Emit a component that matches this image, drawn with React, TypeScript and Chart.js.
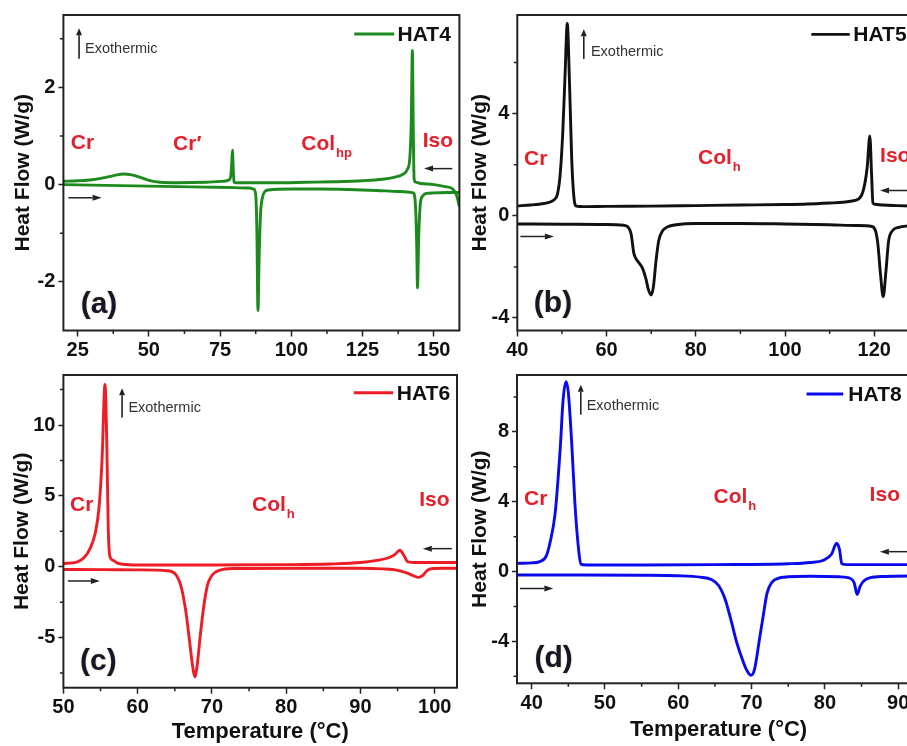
import React, { useEffect, useRef } from "react";
import { Chart, registerables } from "chart.js";

Chart.register(...registerables);

const FONT = "'Liberation Sans', Arial, Helvetica, sans-serif";

// ---------------- HAT4 (a) ----------------
const hat4CoolT = [20, 25, 30, 35, 38, 41, 44, 47, 50, 54, 60, 70, 76, 78.2, 78.8, 79.1, 79.35, 79.6, 79.9, 80.4, 85, 95, 105, 115, 125, 132, 136, 139, 140.8, 141.6, 142.1, 142.5, 142.8, 143.1, 143.6, 145, 150, 154, 156.5, 158, 159];
const hat4CoolHF = [0.07, 0.08, 0.1, 0.15, 0.19, 0.22, 0.2, 0.15, 0.09, 0.05, 0.04, 0.05, 0.07, 0.1, 0.2, 0.45, 0.71, 0.35, 0.06, 0.04, 0.04, 0.04, 0.05, 0.06, 0.08, 0.11, 0.15, 0.21, 0.32, 0.55, 1.3, 2.76, 1.2, 0.12, 0.05, 0.03, 0.0, -0.04, -0.08, -0.22, -0.45];
const hat4HeatT = [20, 30, 40, 50, 60, 70, 80, 85, 86.8, 87.5, 87.9, 88.3, 88.7, 89.2, 89.8, 90.6, 92, 100, 110, 120, 130, 138, 142.8, 143.6, 144, 144.3, 144.7, 145.2, 146, 147.5, 150, 155, 159];
const hat4HeatHF = [0.0, -0.01, -0.02, -0.03, -0.04, -0.05, -0.06, -0.07, -0.09, -0.2, -0.9, -2.59, -1.5, -0.6, -0.28, -0.15, -0.11, -0.09, -0.09, -0.1, -0.12, -0.14, -0.17, -0.45, -1.2, -2.12, -1.1, -0.45, -0.24, -0.18, -0.17, -0.16, -0.16];
const hat4XTicks = [25, 50, 75, 100, 125, 150];
const hat4XMinor = [37.5, 62.5, 87.5, 112.5, 137.5];
const hat4YTicks = [-2, 0, 2];
const hat4YMinor = [-1, 1, 3];

// ---------------- HAT5 (b) ----------------
const hat5CoolT = [40, 43, 46, 47.5, 48.4, 49.0, 49.6, 50.2, 50.7, 51.2, 51.7, 52.2, 52.7, 53.2, 55, 60, 70, 80, 90, 100, 105, 110, 113, 115, 116.4, 117.5, 118.4, 119.0, 119.4, 119.7, 120.2, 122, 125, 130];
const hat5CoolHF = [0.39, 0.42, 0.48, 0.55, 0.65, 0.85, 1.6, 3.3, 5.5, 7.53, 5.2, 2.2, 0.7, 0.38, 0.36, 0.37, 0.38, 0.4, 0.42, 0.44, 0.46, 0.5, 0.53, 0.58, 0.65, 0.97, 1.87, 3.13, 1.6, 0.5, 0.45, 0.42, 0.4, 0.38];
const hat5HeatT = [40, 50, 60, 63, 64.3, 65.5, 66.1, 66.6, 67.3, 68.1, 68.8, 69.4, 70.0, 70.5, 71.1, 71.7, 72.6, 73.7, 75.6, 80, 90, 100, 110, 116, 119.5, 120.3, 120.8, 121.4, 122.0, 122.6, 123.2, 124, 125.5, 127.5, 130];
const hat5HeatHF = [-0.32, -0.33, -0.34, -0.36, -0.39, -0.71, -1.45, -1.68, -1.85, -2.07, -2.45, -2.9, -3.1, -2.78, -1.74, -0.97, -0.58, -0.43, -0.35, -0.3, -0.3, -0.32, -0.35, -0.38, -0.42, -0.6, -1.1, -2.3, -3.17, -2.2, -1.0, -0.6, -0.45, -0.4, -0.38];
const hat5XTicks = [40, 60, 80, 100, 120];
const hat5XMinor = [50, 70, 90, 110, 130];
const hat5YTicks = [-4, 0, 4];
const hat5YMinor = [-2, 2, 6];

// ---------------- HAT6 (c) ----------------
const hat6CoolT = [50, 51.8, 52.8, 53.6, 54.3, 54.8, 55.2, 55.6, 55.85, 56.05, 56.3, 56.7, 57.2, 58, 60, 70, 80, 86, 90, 92.2, 93.7, 94.6, 95.3, 95.8, 96.4, 97.5, 100, 103];
const hat6CoolHF = [0.23, 0.33, 0.65, 1.3, 2.4, 4.2, 7.5, 12.87, 8.5, 2.5, 0.65, 0.45, 0.28, 0.18, 0.13, 0.13, 0.15, 0.2, 0.3, 0.45, 0.62, 0.85, 1.17, 0.85, 0.35, 0.3, 0.3, 0.3];
const hat6HeatT = [50, 55, 60, 64, 65.2, 65.9, 66.5, 67.0, 67.4, 67.7, 68.0, 68.4, 68.9, 69.4, 70, 71, 73, 80, 90, 93, 95, 96.3, 97.2, 97.8, 98.4, 99.0, 99.7, 101, 103];
const hat6HeatHF = [-0.19, -0.2, -0.22, -0.28, -0.6, -1.5, -3.2, -5.3, -7.0, -7.76, -7.0, -5.0, -2.8, -1.3, -0.6, -0.25, -0.12, -0.1, -0.1, -0.15, -0.25, -0.45, -0.65, -0.75, -0.6, -0.25, -0.12, -0.1, -0.1];
const hat6XTicks = [50, 60, 70, 80, 90, 100];
const hat6XMinor = [55, 65, 75, 85, 95];
const hat6YTicks = [-5, 0, 5, 10];
const hat6YMinor = [-7.5, -2.5, 2.5, 7.5, 12.5];

// ---------------- HAT8 (d) ----------------
const hat8CoolT = [38, 40, 41, 42, 42.5, 43.2, 43.9, 44.3, 44.7, 45.0, 45.5, 45.9, 46.4, 46.7, 47.5, 55, 65, 75, 78, 79.8, 80.9, 81.6, 82.0, 82.3, 83, 88, 93];
const hat8CoolHF = [0.47, 0.5, 0.56, 0.9, 1.65, 3.33, 7.08, 9.9, 10.88, 10.26, 7.08, 3.9, 1.27, 0.43, 0.38, 0.38, 0.4, 0.45, 0.52, 0.65, 0.99, 1.62, 1.25, 0.45, 0.4, 0.4, 0.4];
const hat8HeatT = [38, 45, 55, 60, 63, 64.5, 65.5, 66.4, 67.2, 68, 68.8, 69.4, 69.9, 70.4, 71.1, 71.6, 72.1, 72.7, 73.5, 75, 78, 82, 83.5, 84.0, 84.4, 84.8, 85.4, 86.2, 88, 93];
const hat8HeatHF = [-0.2, -0.2, -0.21, -0.24, -0.32, -0.45, -0.8, -1.6, -2.8, -4.1, -5.1, -5.7, -5.94, -5.6, -3.8, -2.5, -1.25, -0.65, -0.4, -0.3, -0.27, -0.3, -0.4, -0.65, -1.31, -0.85, -0.5, -0.35, -0.28, -0.25];
const hat8XTicks = [40, 50, 60, 70, 80, 90];
const hat8XMinor = [45, 55, 65, 75, 85];
const hat8YTicks = [-4, 0, 4, 8];
const hat8YMinor = [-6, -2, 2, 6, 10];

// ---------------- annotation texts (data coordinates) ----------------
type Phase = { t: string; sub?: string; x: number; y: number };
const hat4Phases: Phase[] = [
  { t: "Cr", x: 22.6, y: 0.89 },
  { t: "Cr\u2032", x: 58.5, y: 0.86 },
  { t: "Col", sub: "hp", x: 103.5, y: 0.86 },
  { t: "Iso", x: 146.1, y: 0.93 },
];
const hat5Phases: Phase[] = [
  { t: "Cr", x: 41.5, y: 2.29 },
  { t: "Col", sub: "h", x: 80.5, y: 2.33 },
  { t: "Iso", x: 121.3, y: 2.39 },
];
const hat6Phases: Phase[] = [
  { t: "Cr", x: 50.9, y: 4.48 },
  { t: "Col", sub: "h", x: 75.4, y: 4.48 },
  { t: "Iso", x: 97.9, y: 4.83 },
];
const hat8Phases: Phase[] = [
  { t: "Cr", x: 38.95, y: 4.27 },
  { t: "Col", sub: "h", x: 64.8, y: 4.36 },
  { t: "Iso", x: 86.1, y: 4.49 },
];

type Panel = {
  name: string;
  label: string;
  panelTag: string;
  color: string;
  coolT: number[];
  coolHF: number[];
  heatT: number[];
  heatHF: number[];
  xTicks: number[];
  xMinor: number[];
  yTicks: number[];
  yMinor: number[];
  xMin: number;
  xMax: number;
  yMin: number;
  yMax: number;
  phases: Phase[];
  exo: { x: number; y1: number; y2: number; tx: number; ty: number };
  heatArrow: { x1: number; x2: number; y: number };
  coolArrow: { x1: number; x2: number; y: number };
  legend: { x1: number; x2: number; tx: number; y: number };
  tag: { x: number; y: number };
  showXTitle: boolean;
  box: { left: number; top: number; w: number; h: number; padTop: number; padRight: number; yW: number; xH: number; yTitlePad: number; xTitlePad: number };
};

const panels: Panel[] = [
  {
    name: "a", label: "HAT4", panelTag: "(a)", color: "#1c8a1c",
    coolT: hat4CoolT, coolHF: hat4CoolHF, heatT: hat4HeatT, heatHF: hat4HeatHF,
    xTicks: hat4XTicks, xMinor: hat4XMinor, yTicks: hat4YTicks, yMinor: hat4YMinor,
    xMin: 20, xMax: 159, yMin: -3.0, yMax: 3.49,
    phases: hat4Phases,
    exo: { x: 25.5, y1: 2.59, y2: 3.22, tx: 27.6, ty: 2.8 },
    heatArrow: { x1: 21.75, x2: 33.4, y: -0.27 },
    coolArrow: { x1: 156.5, x2: 146.6, y: 0.33 },
    legend: { x1: 122.1, x2: 136.1, tx: 137.3, y: 3.1 },
    tag: { x: 32.5, y: -2.48 },
    showXTitle: false,
    box: { left: 0, top: 0, w: 470, h: 360, padTop: 12.7, padRight: 10.6, yW: 63.4, xH: 29.5, yTitlePad: 10.5, xTitlePad: 1 },
  },
  {
    name: "b", label: "HAT5", panelTag: "(b)", color: "#111111",
    coolT: hat5CoolT, coolHF: hat5CoolHF, heatT: hat5HeatT, heatHF: hat5HeatHF,
    xTicks: hat5XTicks, xMinor: hat5XMinor, yTicks: hat5YTicks, yMinor: hat5YMinor,
    xMin: 40, xMax: 130, yMin: -4.49, yMax: 7.86,
    phases: hat5Phases,
    exo: { x: 54.9, y1: 6.14, y2: 7.3, tx: 56.5, ty: 6.42 },
    heatArrow: { x1: 40.7, x2: 48.2, y: -0.81 },
    coolArrow: { x1: 128.5, x2: 121.3, y: 0.99 },
    legend: { x1: 105.9, x2: 114.5, tx: 115.3, y: 7.1 },
    tag: { x: 48.0, y: -3.45 },
    showXTitle: false,
    box: { left: 460, top: 0, w: 470, h: 360, padTop: 12.7, padRight: 11.1, yW: 57.3, xH: 29.5, yTitlePad: 7.5, xTitlePad: 1 },
  },
  {
    name: "c", label: "HAT6", panelTag: "(c)", color: "#ee1c24",
    coolT: hat6CoolT, coolHF: hat6CoolHF, heatT: hat6HeatT, heatHF: hat6HeatHF,
    xTicks: hat6XTicks, xMinor: hat6XMinor, yTicks: hat6YTicks, yMinor: hat6YMinor,
    xMin: 50, xMax: 103, yMin: -8.53, yMax: 13.53,
    phases: hat6Phases,
    exo: { x: 57.9, y1: 10.54, y2: 12.6, tx: 58.75, ty: 11.19 },
    heatArrow: { x1: 50.6, x2: 54.9, y: -1.0 },
    coolArrow: { x1: 102.3, x2: 98.4, y: 1.28 },
    legend: { x1: 89.1, x2: 94.4, tx: 94.9, y: 12.28 },
    tag: { x: 54.7, y: -6.71 },
    showXTitle: true,
    box: { left: 0, top: 360, w: 470, h: 386, padTop: 12.2, padRight: 13, yW: 63.4, xH: 58.3, yTitlePad: 10, xTitlePad: 1.2 },
  },
  {
    name: "d", label: "HAT8", panelTag: "(d)", color: "#0a0aee",
    coolT: hat8CoolT, coolHF: hat8CoolHF, heatT: hat8HeatT, heatHF: hat8HeatHF,
    xTicks: hat8XTicks, xMinor: hat8XMinor, yTicks: hat8YTicks, yMinor: hat8YMinor,
    xMin: 38, xMax: 93, yMin: -6.4, yMax: 11.26,
    phases: hat8Phases,
    exo: { x: 46.7, y1: 8.99, y2: 10.7, tx: 47.5, ty: 9.51 },
    heatArrow: { x1: 38.4, x2: 42.95, y: -0.97 },
    coolArrow: { x1: 92.5, x2: 87.5, y: 1.14 },
    legend: { x1: 77.5, x2: 82.5, tx: 83.2, y: 10.17 },
    tag: { x: 43.0, y: -5.0 },
    showXTitle: true,
    box: { left: 460, top: 360, w: 470, h: 386, padTop: 8.8, padRight: 9.8, yW: 57, xH: 62.7, yTitlePad: 7.5, xTitlePad: 2.8 },
  },
];

function drawArrow(ctx: CanvasRenderingContext2D, x1: number, y1: number, x2: number, y2: number, head = 8, half = 3.2) {
  const ang = Math.atan2(y2 - y1, x2 - x1);
  const bx = x2 - head * Math.cos(ang);
  const by = y2 - head * Math.sin(ang);
  ctx.beginPath();
  ctx.moveTo(x1, y1);
  ctx.lineTo(bx, by);
  ctx.stroke();
  ctx.beginPath();
  ctx.moveTo(x2, y2);
  ctx.lineTo(bx + half * Math.sin(ang), by - half * Math.cos(ang));
  ctx.lineTo(bx - half * Math.sin(ang), by + half * Math.cos(ang));
  ctx.closePath();
  ctx.fill();
}

function makeDecor(p: Panel) {
  return {
    id: "decor_" + p.name,
    afterDatasetsDraw(chart: any) {
      const { ctx, chartArea: a, scales } = chart;
      const X = (v: number) => scales.x.getPixelForValue(v);
      const Y = (v: number) => scales.y.getPixelForValue(v);
      ctx.save();
      // minor ticks
      ctx.strokeStyle = "#222";
      ctx.lineWidth = 1.5;
      ctx.beginPath();
      p.xMinor.forEach((v) => {
        const px = X(v);
        ctx.moveTo(px, a.bottom);
        ctx.lineTo(px, a.bottom + 3.5);
      });
      p.yMinor.forEach((v) => {
        const py = Y(v);
        ctx.moveTo(a.left, py);
        ctx.lineTo(a.left - 3.5, py);
      });
      ctx.stroke();
      // frame
      ctx.lineWidth = 2;
      ctx.strokeRect(a.left, a.top, a.right - a.left, a.bottom - a.top);

      // phase labels
      ctx.fillStyle = "#e3202b";
      ctx.textAlign = "left";
      ctx.textBaseline = "alphabetic";
      p.phases.forEach((ph) => {
        const px = X(ph.x);
        const py = Y(ph.y) + 7.5;
        ctx.font = `bold 21px ${FONT}`;
        ctx.fillText(ph.t, px, py);
        if (ph.sub) {
          const w = ctx.measureText(ph.t).width;
          ctx.font = `bold 13px ${FONT}`;
          ctx.fillText(ph.sub, px + w + 1, py + 7);
        }
      });

      // exothermic arrow and text
      ctx.strokeStyle = "#222";
      ctx.fillStyle = "#222";
      ctx.lineWidth = 1.6;
      drawArrow(ctx, X(p.exo.x), Y(p.exo.y1), X(p.exo.x), Y(p.exo.y2), 7, 3);
      ctx.fillStyle = "#333";
      ctx.font = `14.5px ${FONT}`;
      ctx.textBaseline = "middle";
      ctx.fillText("Exothermic", X(p.exo.tx), Y(p.exo.ty));

      // heating / cooling arrows
      ctx.fillStyle = "#222";
      ctx.lineWidth = 1.5;
      drawArrow(ctx, X(p.heatArrow.x1), Y(p.heatArrow.y), X(p.heatArrow.x2), Y(p.heatArrow.y), 9, 3);
      drawArrow(ctx, X(p.coolArrow.x1), Y(p.coolArrow.y), X(p.coolArrow.x2), Y(p.coolArrow.y), 9, 3);

      // legend
      ctx.strokeStyle = p.color;
      ctx.lineWidth = 2.9;
      ctx.beginPath();
      ctx.moveTo(X(p.legend.x1), Y(p.legend.y));
      ctx.lineTo(X(p.legend.x2), Y(p.legend.y));
      ctx.stroke();
      ctx.fillStyle = "#111";
      ctx.font = `bold 21px ${FONT}`;
      ctx.textBaseline = "middle";
      ctx.fillText(chart.data.datasets[0].label, X(p.legend.tx), Y(p.legend.y) + 1);

      // panel tag
      ctx.font = `bold 30px ${FONT}`;
      ctx.textAlign = "center";
      ctx.fillStyle = "#161628";
      ctx.shadowColor = "rgba(190,150,70,0.55)";
      ctx.shadowBlur = 2;
      ctx.fillText(p.panelTag, X(p.tag.x), Y(p.tag.y));
      ctx.restore();
    },
  };
}

function toPoints(xs: number[], ys: number[]) {
  return xs.map((x, i) => ({ x, y: ys[i] }));
}

function DscPanel({ p }: { p: Panel }) {
  const ref = useRef<HTMLCanvasElement | null>(null);
  useEffect(() => {
    if (!ref.current) return;
    const tickFont = { family: FONT, size: 20, weight: "bold" as const };
    const chart = new Chart(ref.current, {
      type: "line",
      data: {
        datasets: [
          { label: p.label, data: toPoints(p.coolT, p.coolHF), borderColor: p.color, borderWidth: 2.9, pointRadius: 0, cubicInterpolationMode: "monotone", fill: false },
          { label: p.label + " heating", data: toPoints(p.heatT, p.heatHF), borderColor: p.color, borderWidth: 2.9, pointRadius: 0, cubicInterpolationMode: "monotone", fill: false },
        ],
      },
      options: {
        responsive: false,
        animation: false,
        devicePixelRatio: 1,
        layout: { autoPadding: false, padding: { top: p.box.padTop, right: p.box.padRight, left: 0, bottom: 0 } },
        plugins: { legend: { display: false }, tooltip: { enabled: false } },
        scales: {
          x: {
            type: "linear",
            min: p.xMin,
            max: p.xMax,
            afterFit: (s: any) => { s.height = p.box.xH; },
            afterBuildTicks: (s: any) => { s.ticks = p.xTicks.map((v) => ({ value: v })); },
            ticks: { font: tickFont, color: "#111", padding: 2, maxRotation: 0, autoSkip: false, callback: (v: any) => String(v) },
            grid: { drawOnChartArea: false, drawTicks: true, tickLength: 6, tickWidth: 1.5, tickColor: "#222" },
            border: { display: false },
            title: { display: p.showXTitle, text: "Temperature (\u00B0C)", color: "#111", font: { family: FONT, size: 22, weight: "bold" }, padding: { top: 0, bottom: p.box.xTitlePad } },
          },
          y: {
            type: "linear",
            min: p.yMin,
            max: p.yMax,
            afterFit: (s: any) => { s.width = p.box.yW; },
            afterBuildTicks: (s: any) => { s.ticks = p.yTicks.map((v) => ({ value: v })); },
            ticks: { font: tickFont, color: "#111", padding: 3, autoSkip: false, callback: (v: any) => String(v) },
            grid: { drawOnChartArea: false, drawTicks: true, tickLength: 5, tickWidth: 1.5, tickColor: "#222" },
            border: { display: false },
            title: { display: true, text: "Heat Flow (W/g)", color: "#111", font: { family: FONT, size: 21, weight: "bold" }, padding: { top: p.box.yTitlePad, bottom: 0 } },
          },
        },
      },
      plugins: [makeDecor(p)],
    } as any);
    return () => chart.destroy();
  }, [p]);
  return (
    <div style={{ position: "absolute", left: p.box.left, top: p.box.top, width: p.box.w, height: p.box.h }}>
      <canvas ref={ref} width={p.box.w} height={p.box.h} style={{ display: "block", width: p.box.w, height: p.box.h }} />
    </div>
  );
}

export default function App() {
  return (
    <div style={{ position: "absolute", left: 0, top: 0, width: 907, height: 746, overflow: "hidden", background: "#fff" }}>
      {panels.map((p) => (
        <DscPanel key={p.name} p={p} />
      ))}
    </div>
  );
}
